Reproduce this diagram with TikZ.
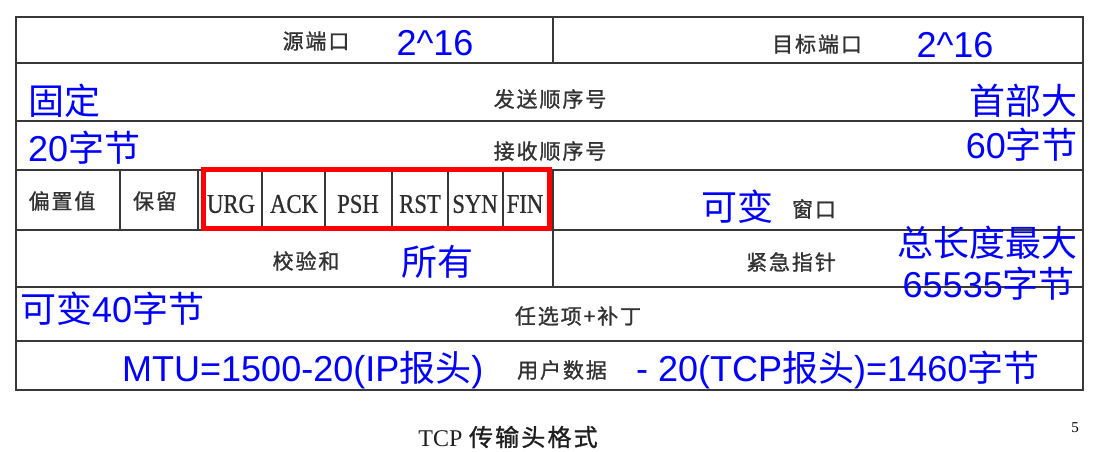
\documentclass[tikz,border=0pt]{standalone}
\usepackage{fontspec}
\usepackage{graphicx}
\setmainfont{Liberation Sans}
\newfontfamily\cjk{Noto Sans CJK SC}
\newfontfamily\cjkl[LetterSpace=9,FakeBold=1.2]{Noto Sans CJK SC}
\newfontfamily\tms{Liberation Serif}
\newfontfamily\tmsb[FakeBold=0.8]{Liberation Serif}
\newcommand\Cj[1]{{\cjk #1}}
\newcommand\fl[1]{\scalebox{0.84}[1]{#1}}
\begin{document}
\begin{tikzpicture}[x=1pt,y=-1pt,
  hline/.style={draw=black!78, line width=1.8pt},
  vline/.style={draw=black!78, line width=1.3pt},
  lbl/.style={font=\cjkl\fontsize{21}{21}\selectfont, text=black!80, inner sep=0pt},
  flag/.style={font=\tmsb\fontsize{27}{27}\selectfont, text=black!82, inner sep=0pt},
  note/.style={font=\fontsize{36}{36}\selectfont, text=blue, inner sep=0pt},
  redbox/.style={draw=red, line width=5pt}]
\useasboundingbox (0,0) rectangle (1099,451);
% table
\draw[hline] (16,17) rectangle (1083,390);
\foreach \y in {63,121,170,230,287,341} \draw[hline] (16,\y) -- (1083,\y);
\draw[vline] (553,17) -- (553,63);
\draw[vline] (553,170) -- (553,287);
\foreach \x in {120,198,262,325,392,448,503} \draw[vline] (\x,170) -- (\x,230);
\draw[redbox] (203,169) rectangle (549,228);
% black labels
\node[lbl] (src) at (316,41) {源端口};
\node[lbl] (dst) at (817,44) {目标端口};
\node[lbl] (seq) at (550,99) {发送顺序号};
\node[lbl] (ack) at (550,151) {接收顺序号};
\node[lbl] (off) at (62,201) {偏置值};
\node[lbl] (res) at (155,201) {保留};
\node[flag] (urg) at (231,204) {\fl{URG}};
\node[flag] (ackf) at (294,204) {\fl{ACK}};
\node[flag] (psh) at (358,204) {\fl{PSH}};
\node[flag] (rst) at (420,204) {\fl{RST}};
\node[flag] (syn) at (475,204) {\fl{SYN}};
\node[flag] (fin) at (525,204) {\fl{FIN}};
\node[lbl] (win) at (814,209) {窗口};
\node[lbl] (chk) at (306,261) {校验和};
\node[lbl] (urgp) at (791,262) {紧急指针};
\node[lbl] (opt) at (578,316) {任选项+补丁};
\node[lbl] (data) at (562,370) {用户数据};
\node[font=\fontsize{24}{24}\selectfont, text=black!88, inner sep=0pt] (cap) at (508,437) {{\tms TCP} {\cjkl 传输头格式}};
\node[font=\tms\fontsize{15}{15}\selectfont, inner sep=0pt] (pg) at (1075,428) {5};
% blue notes
\node[note] (n1) at (435,43) {2\textasciicircum16};
\node[note] (n2) at (955,45) {2\textasciicircum16};
\node[note, anchor=west] (n3) at (28,101) {\Cj{固定}};
\node[note, anchor=west] (n4) at (28,148) {20\Cj{字节}};
\node[note, anchor=east] (n5) at (1078,101) {\Cj{首部大}};
\node[note, anchor=east] (n6) at (1078,145) {60\Cj{字节}};
\node[note] (n7) at (737,207) {\Cj{可变}};
\node[note] (n8) at (437,262) {\Cj{所有}};
\node[note, anchor=east] (n9) at (1078,243) {\Cj{总长度最大}};
\node[note, anchor=east] (n10) at (1075,284) {65535\Cj{字节}};
\node[note, anchor=west] (n11) at (20,309) {\Cj{可变}40\Cj{字节}};
\node[note, anchor=west] (n12) at (122,370) {MTU=1500-20(IP\Cj{报头})};
\node[note, anchor=west] (n13) at (636,370) {- 20(TCP\Cj{报头})=1460\Cj{字节}};
\end{tikzpicture}
\end{document}
